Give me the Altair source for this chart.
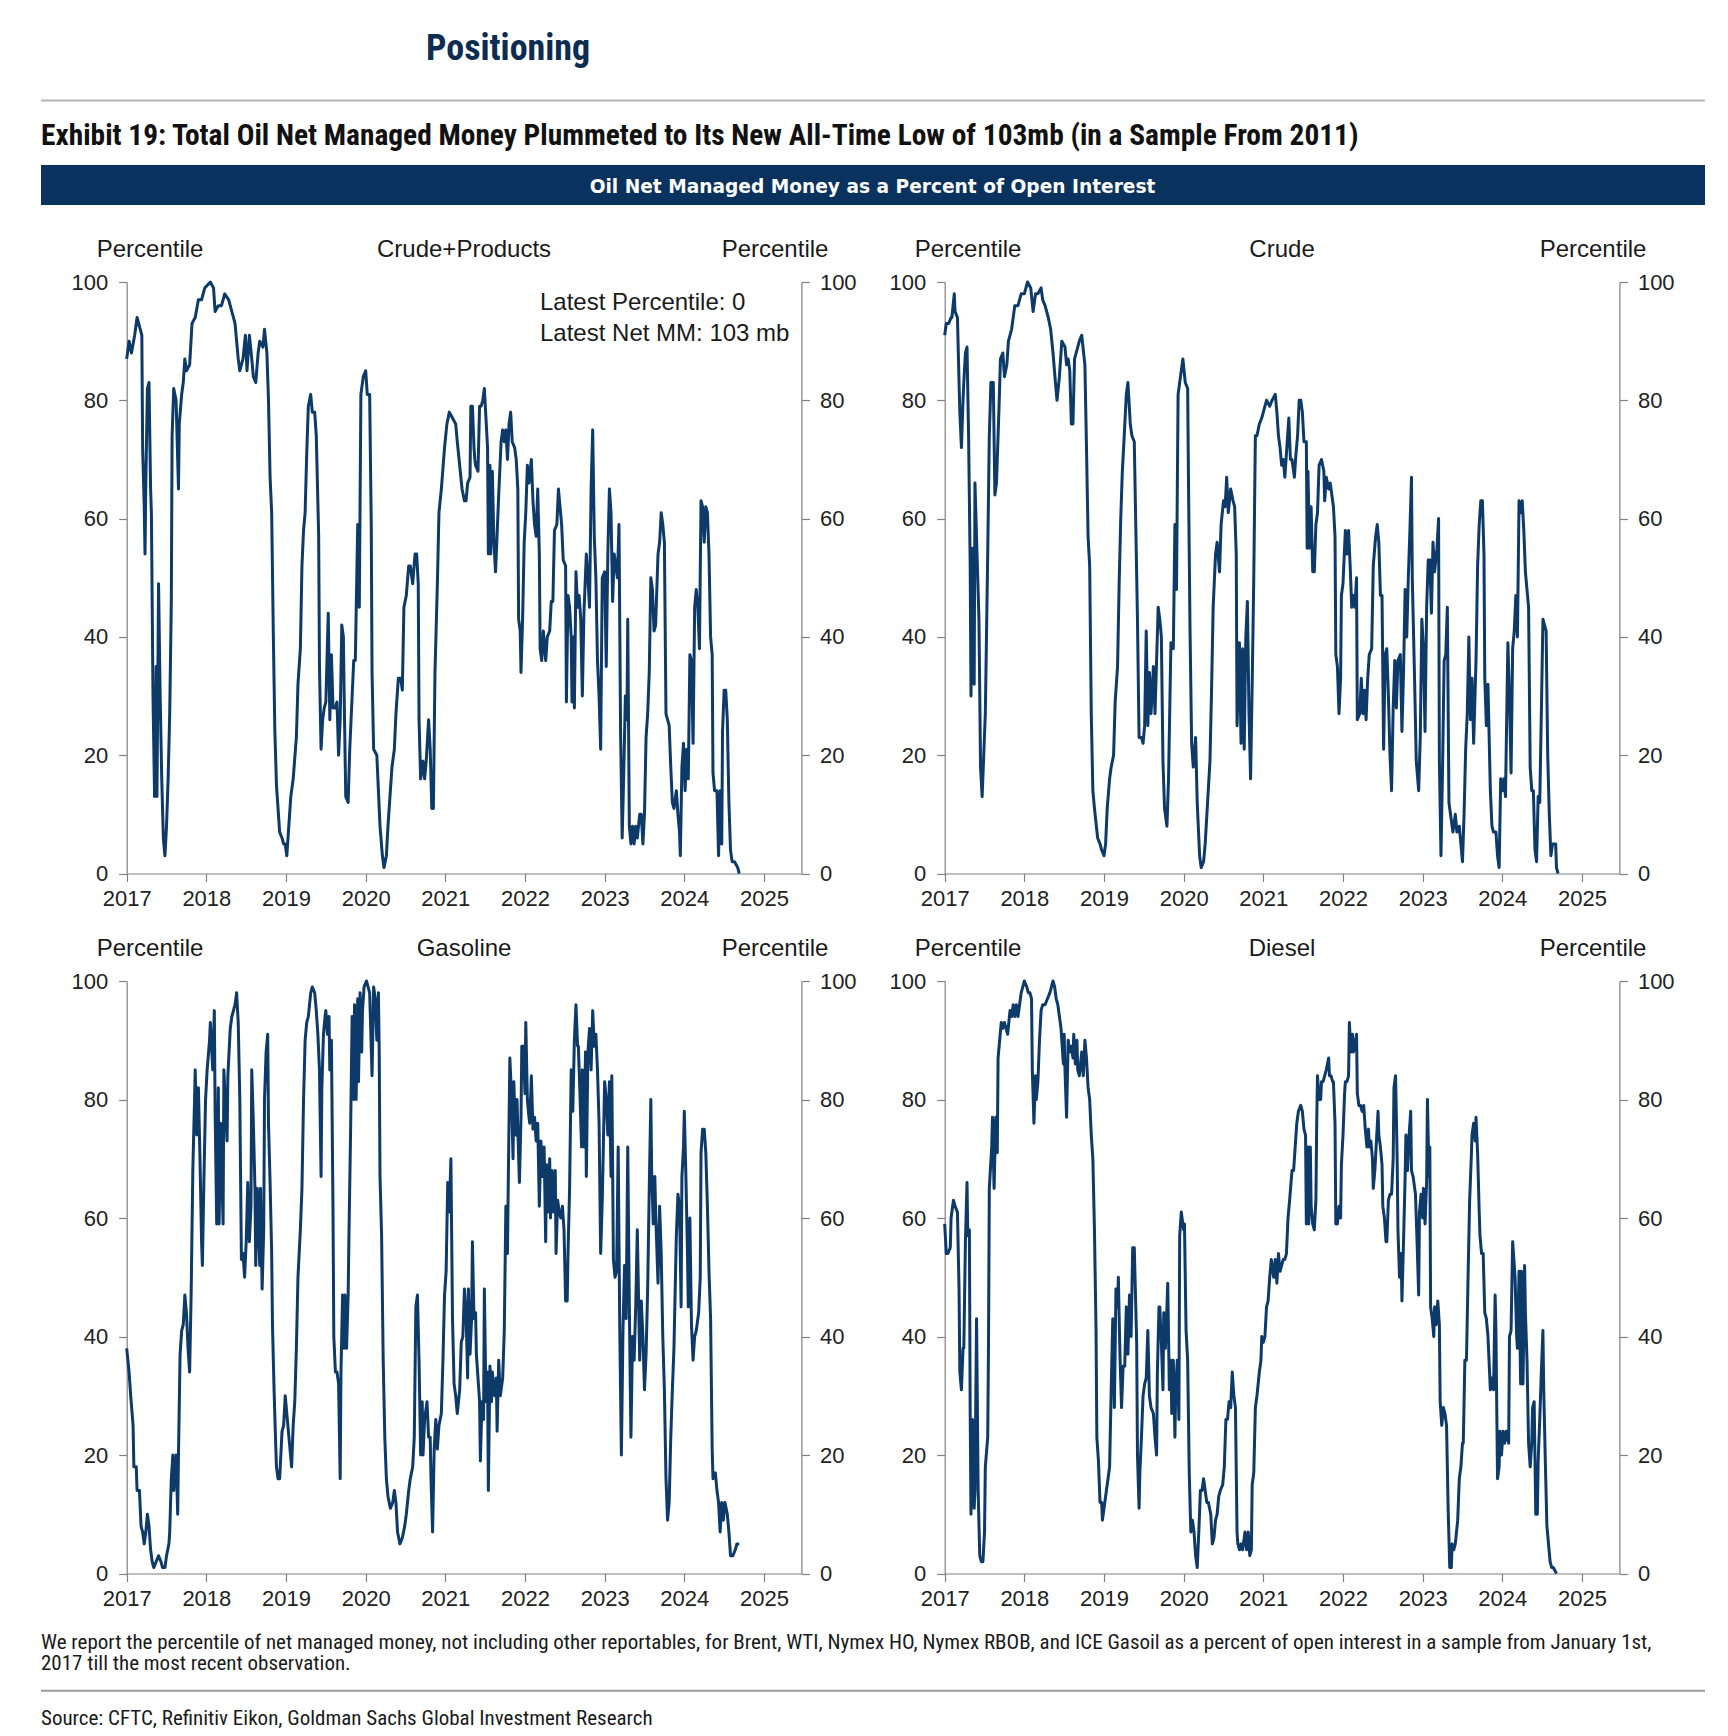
import altair as alt
import pandas as pd

# ---------------- data (decimal year, percentile) ----------------
CRUDE_PRODUCTS = [
(2017.00,87),(2017.03,90),(2017.06,88),(2017.10,91),(2017.13,94),(2017.17,92),(2017.19,91),(2017.20,72),(2017.22,62),(2017.23,54),(2017.24,66),(2017.26,82),(2017.28,83),(2017.30,65),(2017.31,61),(2017.33,30),(2017.35,13),(2017.37,35),(2017.38,13),(2017.40,49),(2017.42,30),(2017.44,16),(2017.46,6),(2017.48,3),(2017.50,8),(2017.52,16),(2017.54,27),(2017.56,46),(2017.57,74),(2017.59,82),(2017.62,80),(2017.65,65),(2017.66,76),(2017.69,81),(2017.71,83),(2017.73,87),(2017.75,85),(2017.79,86),(2017.82,93),(2017.86,94),(2017.90,97),(2017.94,97),(2017.98,99),(2018.05,100),(2018.09,99),(2018.11,95),(2018.15,96),(2018.19,96),(2018.23,98),(2018.28,97),(2018.32,95),(2018.36,93),(2018.40,87),(2018.42,85),(2018.46,87),(2018.49,91),(2018.51,85),(2018.54,91),(2018.57,87),(2018.59,84),(2018.62,83),(2018.65,88),(2018.67,90),(2018.71,89),(2018.73,92),(2018.76,88),(2018.78,80),(2018.80,67),(2018.82,61),(2018.84,41),(2018.86,24),(2018.88,15),(2018.92,7),(2018.95,6),(2018.97,5),(2018.99,5),(2019.01,3),(2019.03,7),(2019.06,13),(2019.09,16),(2019.13,23),(2019.15,32),(2019.18,38),(2019.20,52),(2019.22,58),(2019.24,61),(2019.26,71),(2019.28,79),(2019.31,81),(2019.33,78),(2019.36,78),(2019.38,74),(2019.41,57),(2019.42,35),(2019.44,21),(2019.46,26),(2019.48,28),(2019.50,29),(2019.53,44),(2019.55,26),(2019.57,37),(2019.59,28),(2019.62,28),(2019.64,29),(2019.66,20),(2019.68,26),(2019.70,42),(2019.72,40),(2019.73,30),(2019.75,13),(2019.78,12),(2019.80,21),(2019.83,30),(2019.85,36),(2019.87,36),(2019.90,59),(2019.92,45),(2019.94,81),(2019.97,84),(2020.00,85),(2020.02,81),(2020.05,81),(2020.07,59),(2020.08,34),(2020.10,21),(2020.14,20),(2020.16,14),(2020.18,8),(2020.21,3),(2020.23,1),(2020.26,3),(2020.28,8),(2020.31,14),(2020.33,18),(2020.36,21),(2020.38,27),(2020.41,33),(2020.44,33),(2020.46,31),(2020.48,45),(2020.51,47),(2020.54,52),(2020.56,52),(2020.59,49),(2020.62,54),(2020.64,54),(2020.66,49),(2020.67,26),(2020.69,16),(2020.72,19),(2020.74,16),(2020.76,19),(2020.79,26),(2020.81,21),(2020.83,11),(2020.85,11),(2020.87,34),(2020.90,49),(2020.92,61),(2020.95,65),
(2020.99,72),(2021.02,76),(2021.05,78),(2021.09,77),(2021.13,76),(2021.15,73),(2021.18,69),(2021.21,65),(2021.24,63),(2021.26,63),(2021.28,66),(2021.31,67),(2021.32,79),(2021.34,79),(2021.36,72),(2021.37,70),(2021.38,69),(2021.41,68),(2021.43,79),(2021.45,79),(2021.47,80),(2021.49,82),(2021.51,77),(2021.53,72),(2021.54,54),(2021.56,69),(2021.57,54),(2021.59,68),(2021.61,56),(2021.63,51),(2021.64,54),(2021.67,64),(2021.70,73),(2021.72,75),(2021.74,73),(2021.76,75),(2021.78,70),(2021.80,76),(2021.82,78),(2021.84,73),(2021.87,72),(2021.89,70),(2021.91,65),(2021.92,43),(2021.94,41),(2021.95,34),(2021.97,43),(2021.99,56),(2022.01,61),(2022.03,69),(2022.05,66),(2022.08,70),(2022.10,63),(2022.12,59),(2022.14,57),(2022.16,65),(2022.18,54),(2022.19,38),(2022.21,36),(2022.23,41),(2022.26,36),(2022.28,40),(2022.31,41),(2022.33,46),(2022.35,46),(2022.37,58),(2022.40,59),(2022.42,65),(2022.44,62),(2022.46,59),(2022.48,53),(2022.51,52),(2022.52,29),(2022.54,47),(2022.56,45),(2022.58,40),(2022.59,29),(2022.61,40),(2022.62,28),(2022.64,51),(2022.66,45),(2022.68,47),(2022.70,43),(2022.72,30),(2022.74,44),(2022.77,54),(2022.79,50),(2022.81,45),(2022.83,65),(2022.85,75),(2022.87,57),(2022.89,50),(2022.91,36),(2022.93,30),(2022.95,21),(2022.97,50),(2023.00,51),(2023.02,35),(2023.04,54),(2023.06,65),(2023.08,61),(2023.10,46),(2023.12,54),(2023.14,52),(2023.16,50),(2023.18,59),(2023.20,24),(2023.22,6),(2023.24,17),(2023.26,30),(2023.28,26),(2023.29,43),(2023.31,8),(2023.33,5),(2023.35,8),(2023.37,5),(2023.39,8),(2023.41,6),(2023.44,10),(2023.46,10),(2023.48,5),(2023.50,10),(2023.52,23),(2023.54,27),(2023.56,34),(2023.58,50),(2023.60,48),(2023.62,41),(2023.64,42),(2023.67,54),(2023.69,56),(2023.71,61),(2023.73,59),(2023.75,56),(2023.77,27),(2023.79,26),(2023.81,25),(2023.83,18),(2023.85,12),(2023.87,11),(2023.90,14),(2023.92,10),(2023.94,7),(2023.95,3),(2023.97,18),(2023.99,22),(2024.01,14),(2024.03,21),(2024.05,16),(2024.07,37),(2024.09,36),(2024.11,22),(2024.13,45),(2024.15,48),(2024.17,45),(2024.19,38),(2024.21,63),(2024.23,62),(2024.25,56),(2024.27,62),(2024.29,61),(2024.31,54),(2024.33,40),(2024.35,37),(2024.36,17),(2024.38,14),(2024.41,14),(2024.43,3),(2024.45,14),(2024.47,5),(2024.48,24),(2024.50,31),(2024.52,31),(2024.54,26),(2024.56,12),(2024.58,4),(2024.60,2),(2024.63,2),(2024.67,1),(2024.69,0)]

CRUDE = [
(2017.00,91),(2017.02,93),(2017.05,93),(2017.08,94),(2017.09,94),(2017.12,98),(2017.13,95),(2017.16,94),(2017.18,83),(2017.19,78),(2017.21,72),(2017.23,80),(2017.24,83),(2017.26,88),(2017.28,89),(2017.30,74),(2017.32,52),(2017.33,30),(2017.35,55),(2017.37,32),(2017.38,66),(2017.41,52),(2017.43,43),(2017.45,18),(2017.47,13),(2017.49,20),(2017.51,27),(2017.53,45),(2017.54,54),(2017.56,74),(2017.58,83),(2017.61,83),(2017.63,64),(2017.65,66),(2017.68,78),(2017.70,87),(2017.73,88),(2017.75,84),(2017.78,86),(2017.80,90),(2017.84,92),(2017.88,96),(2017.92,96),(2017.96,98),(2018.00,98),(2018.04,100),(2018.08,99),(2018.11,95),(2018.14,98),(2018.17,98),(2018.21,99),(2018.23,97),(2018.26,96),(2018.30,94),(2018.33,92),(2018.36,88),(2018.39,83),(2018.41,80),(2018.44,84),(2018.47,90),(2018.51,89),(2018.53,86),(2018.55,87),(2018.57,85),(2018.59,76),(2018.61,76),(2018.63,87),(2018.67,89),(2018.69,90),(2018.72,91),(2018.76,86),(2018.78,72),(2018.80,57),(2018.82,52),(2018.84,27),(2018.86,14),(2018.88,11),(2018.92,6),(2018.95,5),(2018.97,4),(2019.00,3),(2019.02,5),(2019.04,11),(2019.07,16),(2019.09,18),(2019.12,20),(2019.14,29),(2019.17,35),(2019.19,49),(2019.21,60),(2019.23,68),(2019.25,73),(2019.28,81),(2019.30,83),(2019.33,76),(2019.35,74),(2019.38,73),(2019.40,58),(2019.42,43),(2019.44,23),(2019.47,23),(2019.49,22),(2019.51,25),(2019.53,41),(2019.55,25),(2019.57,34),(2019.59,27),(2019.62,35),(2019.64,27),(2019.66,36),(2019.68,45),(2019.70,43),(2019.72,40),(2019.74,19),(2019.76,11),(2019.79,8),(2019.81,16),(2019.84,39),(2019.87,38),(2019.89,59),(2019.91,48),(2019.93,81),(2019.96,84),(2019.99,87),(2020.02,83),(2020.05,82),(2020.06,67),(2020.08,41),(2020.10,22),(2020.12,18),(2020.15,23),(2020.17,12),(2020.20,3),(2020.22,1),(2020.25,2),(2020.27,5),(2020.30,12),(2020.33,19),(2020.35,31),(2020.37,45),(2020.40,54),(2020.42,56),(2020.45,51),(2020.47,59),(2020.50,63),(2020.52,62),(2020.54,67),(2020.56,61),(2020.59,65),(2020.62,63),(2020.64,62),(2020.66,54),(2020.67,25),(2020.70,39),(2020.72,22),(2020.74,38),(2020.76,21),(2020.78,40),(2020.80,46),(2020.82,27),(2020.84,16),(2020.86,32),(2020.88,50),(2020.90,74),(2020.92,74),(2020.95,76),(2020.98,77),
(2021.00,78),(2021.04,80),(2021.08,79),(2021.11,80),(2021.15,81),(2021.17,78),(2021.19,74),(2021.21,72),(2021.23,69),(2021.25,70),(2021.27,67),(2021.29,71),(2021.32,77),(2021.34,70),(2021.36,70),(2021.39,67),(2021.41,71),(2021.43,74),(2021.45,80),(2021.47,80),(2021.49,78),(2021.51,73),(2021.54,73),(2021.55,55),(2021.56,68),(2021.58,55),(2021.60,62),(2021.62,51),(2021.64,51),(2021.66,59),(2021.68,61),(2021.70,69),(2021.73,70),(2021.76,68),(2021.77,63),(2021.79,67),(2021.82,65),(2021.84,66),(2021.86,64),(2021.88,62),(2021.90,57),(2021.91,37),(2021.93,35),(2021.95,27),(2021.97,33),(2021.98,47),(2022.00,49),(2022.03,58),(2022.05,54),(2022.07,58),(2022.09,52),(2022.11,45),(2022.13,47),(2022.15,45),(2022.17,50),(2022.18,26),(2022.21,27),(2022.23,33),(2022.25,27),(2022.27,31),(2022.29,26),(2022.31,33),(2022.33,37),(2022.36,38),(2022.38,52),(2022.41,57),(2022.43,59),(2022.45,56),(2022.47,47),(2022.49,47),(2022.51,21),(2022.53,37),(2022.55,38),(2022.57,30),(2022.59,20),(2022.61,14),(2022.63,28),(2022.65,36),(2022.67,28),(2022.69,36),(2022.72,37),(2022.74,24),(2022.76,34),(2022.78,48),(2022.80,40),(2022.82,50),(2022.84,58),(2022.86,67),(2022.87,50),(2022.90,32),(2022.92,19),(2022.95,14),(2022.97,23),(2022.99,43),(2023.01,38),(2023.03,24),(2023.05,45),(2023.07,53),(2023.09,53),(2023.11,44),(2023.13,56),(2023.15,51),(2023.18,55),(2023.20,60),(2023.21,19),(2023.23,3),(2023.25,18),(2023.27,36),(2023.29,37),(2023.31,45),(2023.33,12),(2023.36,9),(2023.38,7),(2023.41,10),(2023.43,7),(2023.46,8),(2023.48,5),(2023.50,2),(2023.52,10),(2023.54,21),(2023.56,27),(2023.58,40),(2023.60,26),(2023.62,33),(2023.64,22),(2023.67,36),(2023.69,52),(2023.71,59),(2023.73,63),(2023.75,63),(2023.77,54),(2023.78,33),(2023.80,25),(2023.82,32),(2023.85,14),(2023.87,8),(2023.89,7),(2023.92,7),(2023.94,3),(2023.96,1),(2023.98,16),(2024.00,14),(2024.02,16),(2024.04,13),(2024.07,39),(2024.09,30),(2024.11,17),(2024.13,38),(2024.15,41),(2024.17,47),(2024.19,40),(2024.21,63),(2024.23,61),(2024.25,63),(2024.27,58),(2024.29,51),(2024.31,48),(2024.33,45),(2024.35,18),(2024.37,14),(2024.39,14),(2024.41,4),(2024.43,2),(2024.45,13),(2024.47,12),(2024.49,27),(2024.51,43),(2024.53,42),(2024.55,41),(2024.57,20),(2024.59,10),(2024.61,3),(2024.63,5),(2024.65,5),(2024.67,5),(2024.68,1),(2024.70,0)]

GASOLINE = [
(2017.00,38),(2017.03,34),(2017.05,30),(2017.08,25),(2017.09,18),(2017.12,18),(2017.13,14),(2017.16,14),(2017.18,8),(2017.20,7),(2017.22,5),(2017.24,7),(2017.26,10),(2017.28,8),(2017.30,4),(2017.32,2),(2017.34,1),(2017.37,2),(2017.40,3),(2017.43,2),(2017.45,1),(2017.48,1),(2017.50,3),(2017.53,5),(2017.54,7),(2017.56,16),(2017.58,20),(2017.59,14),(2017.62,20),(2017.64,10),(2017.65,20),(2017.67,37),(2017.69,41),(2017.71,42),(2017.73,47),(2017.75,44),(2017.77,38),(2017.79,34),(2017.81,48),(2017.83,68),(2017.85,79),(2017.86,85),(2017.88,74),(2017.90,82),(2017.92,70),(2017.94,56),(2017.95,52),(2017.97,67),(2017.99,80),(2018.01,85),(2018.04,90),(2018.05,93),(2018.08,85),(2018.10,95),(2018.11,78),(2018.13,59),(2018.15,82),(2018.16,59),(2018.18,76),(2018.21,59),(2018.22,85),(2018.24,79),(2018.26,73),(2018.27,84),(2018.30,92),(2018.32,94),(2018.34,95),(2018.36,96),(2018.38,98),(2018.40,93),(2018.42,80),(2018.44,53),(2018.46,54),(2018.48,50),(2018.50,56),(2018.52,66),(2018.54,56),(2018.56,62),(2018.57,85),(2018.59,76),(2018.61,65),(2018.62,52),(2018.64,65),(2018.67,52),(2018.68,65),(2018.70,48),(2018.72,58),(2018.73,80),(2018.75,88),(2018.77,91),(2018.78,76),(2018.80,66),(2018.82,54),(2018.83,42),(2018.85,31),(2018.87,22),(2018.88,18),(2018.90,16),(2018.92,16),(2018.95,24),(2018.97,25),(2018.99,30),(2019.01,27),(2019.03,24),(2019.05,21),(2019.07,18),(2019.09,25),(2019.11,29),(2019.13,38),(2019.15,50),(2019.18,58),(2019.20,65),(2019.22,80),(2019.24,90),(2019.26,93),(2019.28,94),(2019.31,98),(2019.33,99),(2019.36,98),(2019.38,95),(2019.40,91),(2019.42,85),(2019.44,67),(2019.45,82),(2019.47,91),(2019.49,94),(2019.50,95),(2019.52,91),(2019.54,94),(2019.55,85),(2019.57,90),(2019.59,61),(2019.60,40),(2019.62,34),(2019.64,34),(2019.66,32),(2019.68,16),(2019.69,34),(2019.71,47),(2019.73,38),(2019.74,47),(2019.76,38),(2019.78,47),(2019.79,57),(2019.81,74),(2019.83,94),(2019.85,80),(2019.86,96),(2019.88,80),(2019.90,97),(2019.91,83),(2019.93,98),(2019.95,88),(2019.96,95),(2019.98,99),(2020.01,100),(2020.03,99),(2020.05,98),(2020.08,84),(2020.10,99),(2020.12,97),(2020.14,90),(2020.16,98),(2020.17,88),(2020.18,67),(2020.20,57),(2020.22,36),(2020.24,23),(2020.26,16),(2020.28,13),(2020.31,11),(2020.34,12),(2020.36,14),(2020.38,12),(2020.40,7),(2020.43,5),(2020.46,6),(2020.49,8),(2020.51,10),(2020.54,14),(2020.56,16),(2020.59,18),(2020.61,23),(2020.63,45),(2020.65,47),(2020.67,36),(2020.69,20),(2020.71,29),(2020.72,20),(2020.74,26),(2020.77,29),(2020.79,23),(2020.81,23),(2020.82,16),(2020.84,7),(2020.86,21),(2020.88,26),(2020.90,21),(2020.92,25),(2020.95,27),(2020.97,36),
(2020.99,47),(2021.01,51),(2021.03,66),(2021.05,61),(2021.07,70),(2021.09,43),(2021.11,32),(2021.13,30),(2021.15,27),(2021.18,31),(2021.20,39),(2021.22,40),(2021.24,48),(2021.26,44),(2021.28,33),(2021.29,48),(2021.31,37),(2021.33,43),(2021.34,56),(2021.36,43),(2021.38,44),(2021.39,37),(2021.41,33),(2021.43,29),(2021.44,19),(2021.46,29),(2021.48,26),(2021.49,48),(2021.51,29),(2021.53,34),(2021.54,14),(2021.56,35),(2021.58,29),(2021.59,34),(2021.62,30),(2021.64,33),(2021.65,24),(2021.67,36),(2021.69,30),(2021.70,31),(2021.72,33),(2021.74,41),(2021.76,62),(2021.78,54),(2021.79,66),(2021.81,87),(2021.83,81),(2021.85,70),(2021.86,83),(2021.88,74),(2021.90,80),(2021.91,75),(2021.93,66),(2021.95,77),(2021.96,89),(2021.98,89),(2022.00,81),(2022.01,93),(2022.03,80),(2022.05,77),(2022.06,76),(2022.08,84),(2022.10,75),(2022.12,77),(2022.14,73),(2022.16,76),(2022.18,62),(2022.20,73),(2022.22,67),(2022.24,72),(2022.26,56),(2022.27,69),(2022.29,61),(2022.31,70),(2022.32,60),(2022.34,68),(2022.36,61),(2022.38,68),(2022.39,54),(2022.41,63),(2022.43,61),(2022.45,60),(2022.47,62),(2022.49,58),(2022.51,46),(2022.53,46),(2022.54,54),(2022.56,65),(2022.58,85),(2022.60,78),(2022.62,90),(2022.64,96),(2022.66,89),(2022.67,89),(2022.69,81),(2022.71,72),(2022.72,85),(2022.74,72),(2022.76,88),(2022.77,67),(2022.79,88),(2022.81,92),(2022.83,85),(2022.85,95),(2022.87,89),(2022.89,91),(2022.91,85),(2022.93,76),(2022.95,54),(2022.97,63),(2023.00,83),(2023.02,80),(2023.04,74),(2023.06,83),(2023.08,67),(2023.09,84),(2023.11,53),(2023.13,50),(2023.15,51),(2023.17,72),(2023.19,41),(2023.21,20),(2023.23,41),(2023.25,52),(2023.27,43),(2023.29,72),(2023.31,45),(2023.33,23),(2023.35,40),(2023.37,36),(2023.39,45),(2023.41,58),(2023.44,36),(2023.46,46),(2023.48,40),(2023.50,31),(2023.52,37),(2023.54,48),(2023.56,65),(2023.58,80),(2023.59,68),(2023.61,59),(2023.63,67),(2023.64,61),(2023.67,49),(2023.69,62),(2023.71,54),(2023.73,40),(2023.75,31),(2023.77,16),(2023.79,9),(2023.81,12),(2023.83,23),(2023.85,31),(2023.87,38),(2023.90,57),(2023.92,64),(2023.94,62),(2023.96,45),(2023.97,67),(2023.99,72),(2024.00,78),(2024.02,67),(2024.04,54),(2024.05,45),(2024.07,60),(2024.09,42),(2024.11,36),(2024.13,40),(2024.15,41),(2024.18,44),(2024.20,50),(2024.21,71),(2024.23,75),(2024.25,75),(2024.27,71),(2024.29,62),(2024.31,51),(2024.33,43),(2024.35,21),(2024.36,16),(2024.39,17),(2024.41,14),(2024.43,12),(2024.45,7),(2024.47,12),(2024.49,9),(2024.51,12),(2024.54,10),(2024.56,7),(2024.58,3),(2024.61,3),(2024.64,4),(2024.66,5),(2024.69,5)]

DIESEL = [
(2017.00,59),(2017.02,54),(2017.04,54),(2017.07,55),(2017.08,60),(2017.11,63),(2017.13,62),(2017.16,61),(2017.18,48),(2017.19,34),(2017.21,31),(2017.23,38),(2017.24,38),(2017.26,56),(2017.28,66),(2017.29,57),(2017.31,58),(2017.32,27),(2017.33,10),(2017.35,26),(2017.37,11),(2017.38,14),(2017.40,43),(2017.42,14),(2017.44,3),(2017.46,2),(2017.48,2),(2017.50,7),(2017.51,18),(2017.54,23),(2017.55,39),(2017.56,65),(2017.59,72),(2017.60,77),(2017.62,65),(2017.64,77),(2017.66,71),(2017.67,87),(2017.69,90),(2017.71,93),(2017.73,92),(2017.75,93),(2017.77,92),(2017.79,91),(2017.82,95),(2017.84,94),(2017.86,96),(2017.88,94),(2017.90,96),(2017.92,94),(2017.94,96),(2017.96,98),(2017.98,99),(2018.00,100),(2018.03,99),(2018.05,98),(2018.07,98),(2018.09,97),(2018.10,85),(2018.12,76),(2018.14,84),(2018.15,80),(2018.17,83),(2018.19,90),(2018.21,95),(2018.23,96),(2018.26,96),(2018.29,97),(2018.32,98),(2018.34,99),(2018.36,100),(2018.38,99),(2018.40,97),(2018.42,96),(2018.44,94),(2018.46,92),(2018.49,86),(2018.50,91),(2018.51,85),(2018.53,77),(2018.55,90),(2018.57,88),(2018.59,89),(2018.61,87),(2018.62,91),(2018.64,86),(2018.66,90),(2018.67,85),(2018.69,84),(2018.72,88),(2018.74,84),(2018.76,90),(2018.78,87),(2018.80,82),(2018.82,80),(2018.84,74),(2018.86,70),(2018.88,58),(2018.90,41),(2018.91,23),(2018.93,19),(2018.95,12),(2018.97,12),(2018.98,9),(2019.01,12),(2019.03,14),(2019.05,16),(2019.07,18),(2019.09,31),(2019.11,43),(2019.13,28),(2019.15,48),(2019.17,45),(2019.18,50),(2019.20,37),(2019.22,28),(2019.24,35),(2019.26,35),(2019.28,45),(2019.30,37),(2019.32,47),(2019.34,40),(2019.36,55),(2019.38,55),(2019.41,39),(2019.42,20),(2019.44,11),(2019.45,17),(2019.47,23),(2019.49,30),(2019.51,32),(2019.53,33),(2019.55,41),(2019.57,30),(2019.59,28),(2019.62,27),(2019.64,23),(2019.66,20),(2019.67,34),(2019.69,45),(2019.70,45),(2019.72,39),(2019.74,31),(2019.75,44),(2019.77,38),(2019.79,45),(2019.80,49),(2019.82,31),(2019.84,36),(2019.85,27),(2019.87,36),(2019.89,23),(2019.90,31),(2019.92,36),(2019.94,26),(2019.95,57),(2019.97,61),(2020.00,58),(2020.01,59),(2020.03,41),(2020.05,36),(2020.07,17),(2020.09,7),(2020.11,9),(2020.13,7),(2020.15,3),(2020.17,1),(2020.19,7),(2020.21,14),(2020.23,14),(2020.25,16),(2020.27,14),(2020.29,12),(2020.31,12),(2020.34,10),(2020.36,5),(2020.38,6),(2020.40,9),(2020.42,10),(2020.44,13),(2020.46,14),(2020.49,15),(2020.51,18),(2020.53,26),(2020.55,26),(2020.57,29),(2020.59,28),(2020.61,34),(2020.63,30),(2020.65,28),(2020.67,7),(2020.68,5),(2020.70,4),(2020.72,5),(2020.74,4),(2020.77,7),(2020.79,4),(2020.81,7),(2020.83,3),(2020.85,4),(2020.86,15),(2020.88,17),(2020.90,28),(2020.92,30),(2020.95,34),(2020.97,36),(2020.98,40),(2021.00,39),
(2021.02,40),(2021.04,45),(2021.06,46),(2021.08,50),(2021.10,53),(2021.13,50),(2021.15,53),(2021.17,49),(2021.19,54),(2021.21,51),(2021.23,52),(2021.25,53),(2021.27,53),(2021.29,54),(2021.31,60),(2021.33,63),(2021.36,68),(2021.38,68),(2021.40,72),(2021.42,76),(2021.44,78),(2021.47,79),(2021.49,78),(2021.51,75),(2021.53,74),(2021.54,59),(2021.56,72),(2021.57,59),(2021.59,72),(2021.60,62),(2021.62,59),(2021.64,58),(2021.66,63),(2021.67,76),(2021.68,84),(2021.70,80),(2021.72,80),(2021.73,83),(2021.75,83),(2021.77,84),(2021.79,85),(2021.82,87),(2021.83,84),(2021.85,84),(2021.87,83),(2021.88,83),(2021.90,76),(2021.91,59),(2021.93,59),(2021.95,62),(2021.97,60),(2021.98,69),(2022.00,74),(2022.02,81),(2022.03,83),(2022.05,83),(2022.07,84),(2022.08,93),(2022.10,88),(2022.12,91),(2022.13,88),(2022.15,89),(2022.17,91),(2022.18,81),(2022.20,79),(2022.22,79),(2022.24,78),(2022.26,79),(2022.28,75),(2022.30,72),(2022.32,75),(2022.33,72),(2022.35,73),(2022.37,70),(2022.38,65),(2022.40,68),(2022.42,73),(2022.44,78),(2022.45,74),(2022.47,72),(2022.49,69),(2022.50,62),(2022.52,60),(2022.54,56),(2022.55,56),(2022.57,63),(2022.59,64),(2022.61,64),(2022.63,70),(2022.64,82),(2022.66,84),(2022.68,70),(2022.69,58),(2022.71,50),(2022.73,54),(2022.74,46),(2022.76,56),(2022.78,67),(2022.79,74),(2022.81,68),(2022.83,74),(2022.85,78),(2022.86,68),(2022.88,67),(2022.90,65),(2022.91,64),(2022.93,56),(2022.95,47),(2022.96,61),(2022.98,64),(2023.00,60),(2023.01,65),(2023.03,59),(2023.05,66),(2023.06,80),(2023.08,67),(2023.09,72),(2023.10,45),(2023.12,43),(2023.14,40),(2023.15,45),(2023.17,42),(2023.19,46),(2023.21,42),(2023.22,29),(2023.24,25),(2023.26,28),(2023.28,27),(2023.30,25),(2023.32,11),(2023.34,1),(2023.36,1),(2023.37,5),(2023.39,4),(2023.41,5),(2023.44,9),(2023.46,16),(2023.48,18),(2023.50,22),(2023.51,22),(2023.53,36),(2023.55,36),(2023.57,50),(2023.59,63),(2023.61,70),(2023.62,74),(2023.64,76),(2023.66,73),(2023.67,77),(2023.69,71),(2023.71,61),(2023.72,57),(2023.74,54),(2023.76,54),(2023.78,44),(2023.80,43),(2023.82,40),(2023.85,31),(2023.87,33),(2023.89,31),(2023.91,47),(2023.92,41),(2023.94,16),(2023.96,18),(2023.97,24),(2023.99,20),(2024.01,24),(2024.03,22),(2024.05,24),(2024.08,22),(2024.09,40),(2024.11,41),(2024.13,56),(2024.14,54),(2024.16,50),(2024.18,40),(2024.19,38),(2024.21,51),(2024.23,32),(2024.24,51),(2024.26,32),(2024.28,52),(2024.29,44),(2024.31,36),(2024.33,22),(2024.35,18),(2024.37,22),(2024.38,28),(2024.40,29),(2024.42,10),(2024.44,10),(2024.45,19),(2024.47,26),(2024.49,34),(2024.51,41),(2024.52,31),(2024.54,19),(2024.56,8),(2024.58,5),(2024.60,2),(2024.62,1),(2024.64,1),(2024.68,0)]

YEAR_TICKS = [2017, 2018, 2019, 2020, 2021, 2022, 2023, 2024, 2025]
PCT_TICKS = [0, 20, 40, 60, 80, 100]
X_DOMAIN = [2017, 2025.47]

PANEL_TITLES = ["Crude+Products", "Crude", "Gasoline", "Diesel"]
MAIN_TITLE = "Positioning"
EXHIBIT = "Exhibit 19: Total Oil Net Managed Money Plummeted to Its New All-Time Low of 103mb (in a Sample From 2011)"
BANNER = "Oil Net Managed Money as a Percent of Open Interest"
ANNOT = ["Latest Percentile: 0", "Latest Net MM: 103 mb"]
FOOT = ["We report the percentile of net managed money, not including other reportables, for Brent, WTI, Nymex HO, Nymex RBOB, and ICE Gasoil as a percent of open interest in a sample from January 1st,",
        "2017 till the most recent observation."]
SOURCE = "Source: CFTC, Refinitiv Eikon, Goldman Sachs Global Investment Research"

# ---------------- styling ----------------
W, H = 1712, 1726
SANS = "Liberation Sans, Arial, Helvetica, sans-serif"
NARROW = "Liberation Sans Narrow, Arial Narrow, Roboto Condensed, DejaVu Sans Condensed, sans-serif"
LINE = "#0d3a69"
NAVY = "#0a325e"
AX = "#808080"

layers = []

def txt(s, x, y, size, font=SANS, weight="normal", align="left", color="#1a1a1a"):
    return alt.Chart(pd.DataFrame({"s": [s]})).mark_text(
        align=align, baseline="alphabetic", font=font, fontSize=size,
        fontWeight=weight, color=color
    ).encode(x=alt.value(x), y=alt.value(y), text="s:N")

def hrule(x1, x2, y, color, w):
    return alt.Chart(pd.DataFrame({"a": [0]})).mark_rule(color=color, strokeWidth=w).encode(
        x=alt.value(x1), x2=alt.value(x2), y=alt.value(y))

axis_style = dict(domainColor=AX, tickColor=AX, domainWidth=1.2, tickWidth=1.2, tickSize=8,
                  labelFont=SANS, labelFontSize=22, labelColor="#222222", grid=False,
                  labelFlush=False, labelOverlap=False, title="")

def panel(series, L, R, T, B, title):
    df = pd.DataFrame(series, columns=["t", "v"])
    xs = alt.Scale(domain=X_DOMAIN, range=[L, R], nice=False, zero=False)
    ys = alt.Scale(domain=[0, 100], range=[B, T], nice=False)
    line = alt.Chart(df).mark_line(color=LINE, strokeWidth=3.0, strokeJoin="round").encode(
        x=alt.X("t:Q", scale=xs, axis=alt.Axis(orient="bottom", offset=B - H, values=YEAR_TICKS,
                                               format="d", labelPadding=7, **axis_style)),
        y=alt.Y("v:Q", scale=ys, axis=alt.Axis(orient="left", offset=-L, values=PCT_TICKS,
                                               labelPadding=11, **axis_style)))
    right = alt.Chart(pd.DataFrame({"v": PCT_TICKS})).mark_point(opacity=0).encode(
        y=alt.Y("v:Q", scale=ys, axis=alt.Axis(orient="right", offset=R - W, values=PCT_TICKS,
                                               labelPadding=10, **axis_style)))
    hy = T - 25
    return [line, right,
            txt("Percentile", L - 30, hy, 24),
            txt(title, (L + R) / 2, hy, 24, align="center"),
            txt("Percentile", R + 27, hy, 24, align="right")]

# header
layers.append(txt(MAIN_TITLE, 418, 52, 36, font=NARROW, weight="bold", color="#0c2c52"))
layers.append(hrule(33, 1697, 92.5, "#b5b5b5", 2))
layers.append(txt(EXHIBIT, 33, 137, 29.4, font=NARROW, weight="bold", color="#111111"))
layers.append(alt.Chart(pd.DataFrame({"a": [0]})).mark_rect(color=NAVY).encode(
    x=alt.value(33), x2=alt.value(1697), y=alt.value(157), y2=alt.value(197)))
layers.append(txt(BANNER, 864.5, 185, 18.6, font="DejaVu Sans, Verdana, sans-serif", weight="bold",
                  align="center", color="#ffffff"))

PANELS = [(118.7, 793.4, 274, 865.5), (936.7, 1611.4, 274, 865.5),
          (118.7, 793.4, 973, 1565.5), (936.7, 1611.4, 973, 1565.5)]
for series, (L, R, T, B), title in zip([CRUDE_PRODUCTS, CRUDE, GASOLINE, DIESEL], PANELS, PANEL_TITLES):
    layers.extend(panel(series, L, R, T, B, title))

layers.append(txt(ANNOT[0], 532, 302, 24))
layers.append(txt(ANNOT[1], 532, 333, 24))

layers.append(txt(FOOT[0], 33, 1641, 21, font=NARROW))
layers.append(txt(FOOT[1], 33, 1662, 21, font=NARROW))
layers.append(hrule(33, 1697, 1682.7, "#9a9a9a", 2))
layers.append(txt(SOURCE, 33, 1717, 21, font=NARROW))

chart = alt.layer(*layers).resolve_scale(x="independent", y="independent").properties(
    width=W, height=H, autosize=alt.AutoSizeParams(type="none"), padding=0
).configure_view(strokeWidth=0)

chart.save("out.html", embed_options={"renderer": "svg", "actions": False})
